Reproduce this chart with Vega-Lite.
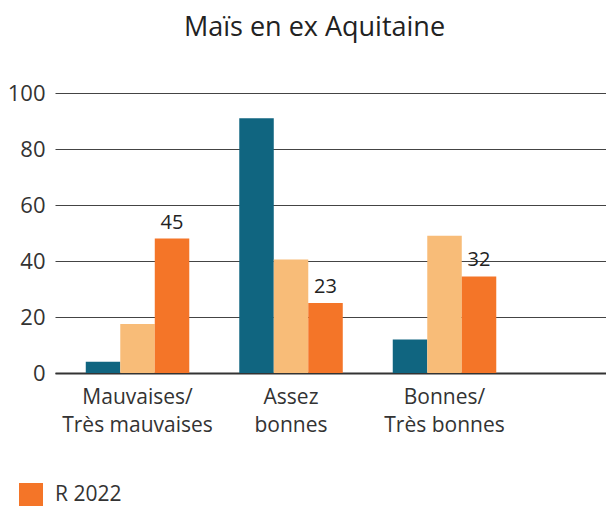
{
  "$schema": "https://vega.github.io/schema/vega-lite/v6.json",
  "width": 551,
  "height": 280,
  "autosize": {"type": "none"},
  "padding": {"left": 55, "top": 93, "right": 0, "bottom": 133},
  "background": "white",
  "title": {"text": "Maïs en ex Aquitaine", "fontSize": 27, "font": "Open Sans", "fontWeight": "normal", "color": "#222", "anchor": "middle", "dx": -16, "offset": 40},
  "data": {"values": [
    {"cat": "Mauvaises/|Très mauvaises", "series": "2021", "value": 4, "label": ""},
    {"cat": "Mauvaises/|Très mauvaises", "series": "Moyenne", "value": 17.5, "label": ""},
    {"cat": "Mauvaises/|Très mauvaises", "series": "R 2022", "value": 48, "label": "45"},
    {"cat": "Assez|bonnes", "series": "2021", "value": 91, "label": ""},
    {"cat": "Assez|bonnes", "series": "Moyenne", "value": 40.5, "label": ""},
    {"cat": "Assez|bonnes", "series": "R 2022", "value": 25, "label": "23"},
    {"cat": "Bonnes/|Très bonnes", "series": "2021", "value": 12, "label": ""},
    {"cat": "Bonnes/|Très bonnes", "series": "Moyenne", "value": 49, "label": ""},
    {"cat": "Bonnes/|Très bonnes", "series": "R 2022", "value": 34.5, "label": "32"}
  ]},
  "encoding": {
    "x": {"field": "cat", "type": "nominal", "sort": null,
      "scale": {"paddingInner": 0.3257, "paddingOuter": 0.4577, "align": 0.219},
      "axis": {"title": null, "labelAngle": 0, "ticks": false, "domain": true, "domainColor": "#333", "domainWidth": 2,
        "labelExpr": "split(datum.label, '|')", "labelFont": "Open Sans", "labelFontSize": 21, "labelColor": "#333",
        "labelLineHeight": 28, "labelPadding": 13, "labelBaseline": "top", "grid": false}},
    "xOffset": {"field": "series", "type": "nominal", "sort": ["2021", "Moyenne", "R 2022"], "scale": {"paddingInner": 0, "paddingOuter": 0}}
  },
  "layer": [
    {
      "mark": {"type": "bar"},
      "encoding": {
        "y": {"field": "value", "type": "quantitative", "scale": {"domain": [0, 100]},
          "axis": {"title": null, "values": [0, 20, 40, 60, 80, 100], "domain": false, "ticks": false,
            "grid": true, "gridColor": "#444", "gridWidth": 1, "labelFont": "Open Sans", "labelFontSize": 22,
            "labelColor": "#333", "labelPadding": 10}},
        "color": {"field": "series", "type": "nominal",
          "scale": {"domain": ["2021", "Moyenne", "R 2022"], "range": ["#106580", "#f8bc78", "#f47528"]},
          "legend": {"values": ["R 2022"], "title": null, "orient": "none", "legendX": -36, "legendY": 390,
            "symbolType": "square", "symbolSize": 576, "symbolStrokeWidth": 0, "labelFont": "Open Sans",
            "labelFontSize": 21, "labelColor": "#333", "labelOffset": 12}}
      }
    },
    {
      "mark": {"type": "text", "dy": -16, "font": "Open Sans", "fontSize": 20, "color": "#222"},
      "encoding": {
        "y": {"field": "value", "type": "quantitative"},
        "text": {"field": "label"}
      }
    }
  ],
  "config": {"view": {"stroke": null}}
}
